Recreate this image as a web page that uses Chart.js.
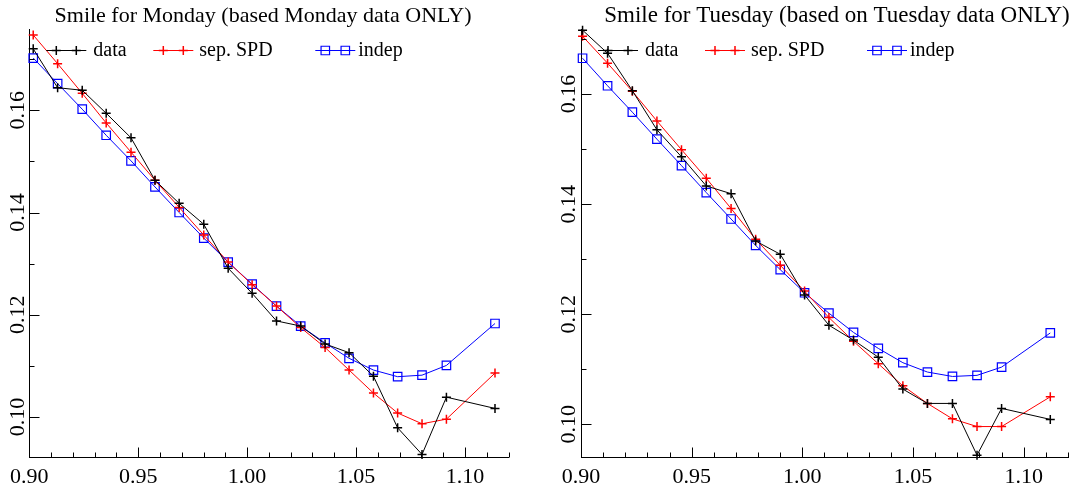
<!DOCTYPE html>
<html>
<head>
<meta charset="utf-8">
<style>
html,body{margin:0;padding:0;background:#fff;overflow:hidden;width:1070px;height:489px;position:relative}
#c1{position:absolute;left:0;top:0}
#c2{position:absolute;left:540px;top:0}
</style>
<script src="https://cdn.jsdelivr.net/npm/chart.js@4/dist/chart.umd.min.js"></script>
</head>
<body>
<canvas id="c1" width="526" height="489"></canvas>
<canvas id="c2" width="594" height="489"></canvas>
<script>
// ---- Data ----
const monTitle = 'Smile for Monday (based Monday data ONLY)';
const tueTitle = 'Smile for Tuesday (based on Tuesday data ONLY)';
const seriesNames = ['data', 'sep. SPD', 'indep'];

const monStrikes = [0.9018, 0.9130, 0.9243, 0.9353, 0.9467, 0.9577, 0.9688, 0.9801, 0.9913, 1.0023, 1.0135, 1.0246, 1.0358, 1.0468, 1.0580, 1.0691, 1.0803, 1.0915, 1.1138];
const monData   = [0.1720, 0.1644, 0.1639, 0.1594, 0.1546, 0.1463, 0.1418, 0.1377, 0.1291, 0.1242, 0.1188, 0.1178, 0.1143, 0.1126, 0.1080, 0.0979, 0.0927, 0.1039, 0.1017];
const monSPD    = [0.1747, 0.1691, 0.1633, 0.1575, 0.1518, 0.1463, 0.1410, 0.1356, 0.1303, 0.1259, 0.1217, 0.1175, 0.1136, 0.1092, 0.1047, 0.1008, 0.0987, 0.0996, 0.1086];
const monIndep  = [0.1702, 0.1652, 0.1602, 0.1551, 0.1501, 0.1450, 0.1400, 0.1350, 0.1303, 0.1260, 0.1217, 0.1178, 0.1145, 0.1115, 0.1092, 0.1079, 0.1082, 0.1101, 0.1183];

const tueStrikes = [0.9007, 0.9120, 0.9232, 0.9343, 0.9454, 0.9566, 0.9678, 0.9789, 0.9900, 1.0010, 1.0120, 1.0231, 1.0343, 1.0454, 1.0565, 1.0678, 1.0789, 1.0900, 1.1120];
const tueData   = [0.1716, 0.1674, 0.1606, 0.1535, 0.1486, 0.1433, 0.1419, 0.1333, 0.1309, 0.1235, 0.1180, 0.1153, 0.1122, 0.1064, 0.1038, 0.1038, 0.0944, 0.1029, 0.1009];
const tueSPD    = [0.1705, 0.1656, 0.1605, 0.1551, 0.1499, 0.1447, 0.1392, 0.1336, 0.1289, 0.1242, 0.1194, 0.1151, 0.1110, 0.1070, 0.1038, 0.1010, 0.0996, 0.0996, 0.1050];
const tueIndep  = [0.1665, 0.1615, 0.1567, 0.1518, 0.1470, 0.1421, 0.1373, 0.1325, 0.1281, 0.1239, 0.1202, 0.1167, 0.1138, 0.1112, 0.1095, 0.1087, 0.1089, 0.1104, 0.1166];

// Tick positions and labels
const xTickValues = [0.90, 0.91, 0.92, 0.93, 0.94, 0.95, 0.96, 0.97, 0.98, 0.99, 1.00, 1.01, 1.02, 1.03, 1.04, 1.05, 1.06, 1.07, 1.08, 1.09, 1.10, 1.11, 1.12];
const xMajorValues = [0.90, 0.95, 1.00, 1.05, 1.10];
const xTickLabels = ['0.90', '0.95', '1.00', '1.05', '1.10'];
const yTickValues = [0.10, 0.11, 0.12, 0.13, 0.14, 0.15, 0.16, 0.17];
const yMajorValues = [0.10, 0.12, 0.14, 0.16];
const yTickLabels = ['0.10', '0.12', '0.14', '0.16'];

// Axis ranges
const monXRange = [0.90, 1.12];
const monYRange = [0.0922, 0.1758];
const tueXRange = [0.90, 1.12];
const tueYRange = [0.09407, 0.17174];

// ---- Styling ----
const SERIF = "'Liberation Serif', 'Times New Roman', serif";
const colors = ['#000000', '#ff0000', '#0000ff'];
const styles = ['cross', 'cross', 'rect'];
const radii = [4.5, 4.5, 6];
const widths = [1.5, 1.5, 1.2];

function labelFor(v, majors, labels) {
  for (let i = 0; i < majors.length; i++) if (Math.abs(v - majors[i]) < 1e-6) return labels[i];
  return '';
}
function isMajor(v, majors) {
  return majors.some(m => Math.abs(v - m) < 1e-6);
}
function pts(xs, ys) { return xs.map((x, i) => ({x: x, y: ys[i]})); }

const inwardTicks = {
  id: 'inwardTicks',
  afterDraw(chart) {
    const ctx = chart.ctx;
    const xs = chart.scales.x, ys = chart.scales.y;
    ctx.save();
    ctx.strokeStyle = '#000';
    ctx.lineWidth = 1;
    ctx.beginPath();
    xTickValues.forEach(v => {
      if (v < xs.min - 1e-9 || v > xs.max + 1e-9) return;
      const px = Math.round(xs.getPixelForValue(v)) + 0.5;
      const len = isMajor(v, xMajorValues) ? 10 : 5;
      const y0 = Math.round(xs.top) + 0.5;
      ctx.moveTo(px, y0); ctx.lineTo(px, y0 - len);
    });
    yTickValues.forEach(v => {
      if (v < ys.min - 1e-9 || v > ys.max + 1e-9) return;
      const py = Math.round(ys.getPixelForValue(v)) + 0.5;
      const len = isMajor(v, yMajorValues) ? 10 : 5;
      const x0 = Math.round(ys.right) + 0.5;
      ctx.moveTo(x0, py); ctx.lineTo(x0 + len, py);
    });
    ctx.stroke();
    ctx.restore();
  }
};

function drawMarker(ctx, style, x, y, color, r, w) {
  ctx.save();
  ctx.strokeStyle = color;
  ctx.lineWidth = w;
  ctx.beginPath();
  if (style === 'cross') {
    ctx.moveTo(x - r, y); ctx.lineTo(x + r, y);
    ctx.moveTo(x, y - r); ctx.lineTo(x, y + r);
  } else {
    const s = r * Math.SQRT1_2;
    ctx.rect(x - s, y - s, 2 * s, 2 * s);
  }
  ctx.stroke();
  ctx.restore();
}

const lineLegend = {
  id: 'lineLegend',
  afterDatasetsDraw(chart) {
    const ctx = chart.ctx;
    const L = chart.chartArea.left;
    const y = 50;
    const entries = [
      {start: 17, text: 64},
      {start: 124, text: 170},
      {start: 286, text: 329}
    ];
    ctx.save();
    chart.data.datasets.forEach((ds, i) => {
      const e = entries[i];
      const x0 = L + e.start, x1 = x0 + 40;
      ctx.strokeStyle = ds.borderColor;
      ctx.lineWidth = 1;
      ctx.beginPath();
      ctx.moveTo(x0, y + 0.5); ctx.lineTo(x1, y + 0.5);
      ctx.stroke();
      drawMarker(ctx, ds.pointStyle, x0 + 10, y + 0.5, ds.borderColor, ds.pointRadius, ds.pointBorderWidth);
      drawMarker(ctx, ds.pointStyle, x0 + 30, y + 0.5, ds.borderColor, ds.pointRadius, ds.pointBorderWidth);
      ctx.fillStyle = '#000';
      ctx.font = "20px " + SERIF;
      ctx.textAlign = 'left';
      ctx.textBaseline = 'middle';
      ctx.fillText(ds.label, L + e.text, y + 1);
    });
    ctx.restore();
  }
};

function makeChart(canvasId, title, titleSize, strikes, series, xRange, yRange, yWidth, rightSpace, yPad) {
  const datasets = series.map((vals, i) => ({
    label: seriesNames[i],
    data: pts(strikes, vals),
    borderColor: colors[i],
    backgroundColor: 'rgba(0,0,0,0)',
    borderWidth: 1,
    pointStyle: styles[i],
    pointRadius: radii[i],
    pointBorderColor: colors[i],
    pointBackgroundColor: 'rgba(0,0,0,0)',
    pointBorderWidth: widths[i],
    tension: 0,
    clip: false,
    fill: false
  }));
  return new Chart(document.getElementById(canvasId), {
    type: 'line',
    data: {datasets},
    options: {
      responsive: false,
      animation: false,
      events: [],
      layout: {padding: 0},
      plugins: {
        legend: {display: false},
        tooltip: {enabled: false},
        title: {
          display: true,
          text: title,
          color: '#000',
          font: {family: SERIF, size: titleSize, weight: 'normal', lineHeight: 26.4 / titleSize},
          padding: {top: 3, bottom: 0}
        }
      },
      scales: {
        x: {
          type: 'linear',
          min: xRange[0], max: xRange[1],
          afterBuildTicks: s => { s.ticks = xTickValues.map(v => ({value: v})); },
          afterFit: s => { s.height = 32; },
          grid: {display: false, drawTicks: false},
          border: {display: true, color: '#000', width: 1},
          ticks: {
            autoSkip: false, maxRotation: 0, minRotation: 0,
            color: '#000', padding: 7,
            font: {family: SERIF, size: 22},
            callback: v => labelFor(v, xMajorValues, xTickLabels)
          }
        },
        y: {
          type: 'linear',
          min: yRange[0], max: yRange[1],
          afterBuildTicks: s => { s.ticks = yTickValues.map(v => ({value: v})); },
          afterFit: s => { s.width = yWidth; },
          grid: {display: false, drawTicks: false},
          border: {display: true, color: '#000', width: 1},
          ticks: {
            autoSkip: false, minRotation: 90, maxRotation: 90,
            crossAlign: 'center',
            color: '#000', padding: yPad,
            font: {family: SERIF, size: 22},
            callback: v => labelFor(v, yMajorValues, yTickLabels)
          }
        },
        // empty spacer on the right so the title stays centred on the whole panel
        spacer: {
          type: 'linear',
          position: 'right',
          display: true,
          afterFit: s => { s.width = rightSpace; },
          grid: {display: false, drawTicks: false},
          border: {display: false},
          ticks: {display: false}
        }
      }
    },
    plugins: [inwardTicks, lineLegend]
  });
}

makeChart('c1', monTitle, 22, monStrikes, [monData, monSPD, monIndep], monXRange, monYRange, 29.3, 17.5, -8.5);
makeChart('c2', tueTitle, 23, tueStrikes, [tueData, tueSPD, tueIndep], tueXRange, tueYRange, 41, 66, -7.5);
</script>
</body>
</html>
